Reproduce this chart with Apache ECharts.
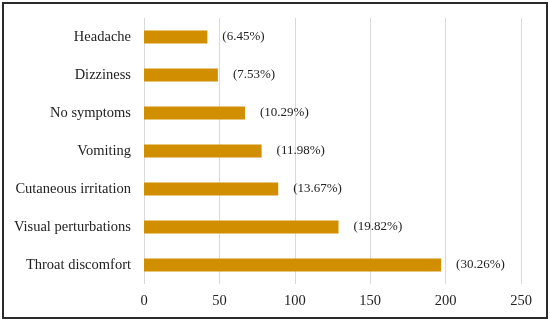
<!DOCTYPE html>
<html><head><meta charset="utf-8">
<script src="https://cdn.jsdelivr.net/npm/echarts@6/dist/echarts.min.js"></script>
<style>html,body{margin:0;padding:0;background:#fff}#c{width:550px;height:321px}</style>
</head><body><div id="c"></div>
<script>
const categories = ["Throat discomfort","Visual perturbations","Cutaneous irritation","Vomiting","No symptoms","Dizziness","Headache"];
const counts = [197,129,89,78,67,49,42];
const percents = ["(30.26%)","(19.82%)","(13.67%)","(11.98%)","(10.29%)","(7.53%)","(6.45%)"];
const xTicks = [0,50,100,150,200,250];

const chart = echarts.init(document.getElementById('c'), null, {renderer:'canvas'});
const font = 'Liberation Serif';
chart.setOption({
  animation:false,
  graphic:[{type:'rect',shape:{x:3,y:3,width:544,height:315},style:{fill:'none',stroke:'#2b2b2b',lineWidth:2}}],
  grid:{left:144,right:29,top:18,bottom:37,containLabel:false},
  xAxis:{type:'value',min:xTicks[0],max:xTicks[xTicks.length-1],interval:50,
    axisLine:{show:false},axisTick:{show:false},
    axisLabel:{color:'#222',fontFamily:font,fontSize:14.5,margin:10},
    splitLine:{lineStyle:{color:'#d9d9d9',width:1}}},
  yAxis:{type:'category',data:categories,
    axisLine:{show:false},axisTick:{show:false},
    axisLabel:{color:'#222',fontFamily:font,fontSize:14.5,margin:13,width:140,overflow:'none'}},
  series:[{type:'bar',data:counts,barWidth:13,itemStyle:{color:'#D18F00'},
    label:{show:true,position:'right',distance:15,fontFamily:font,fontSize:13,color:'#222',
      formatter:p=>percents[p.dataIndex]}}]
});
</script></body></html>
